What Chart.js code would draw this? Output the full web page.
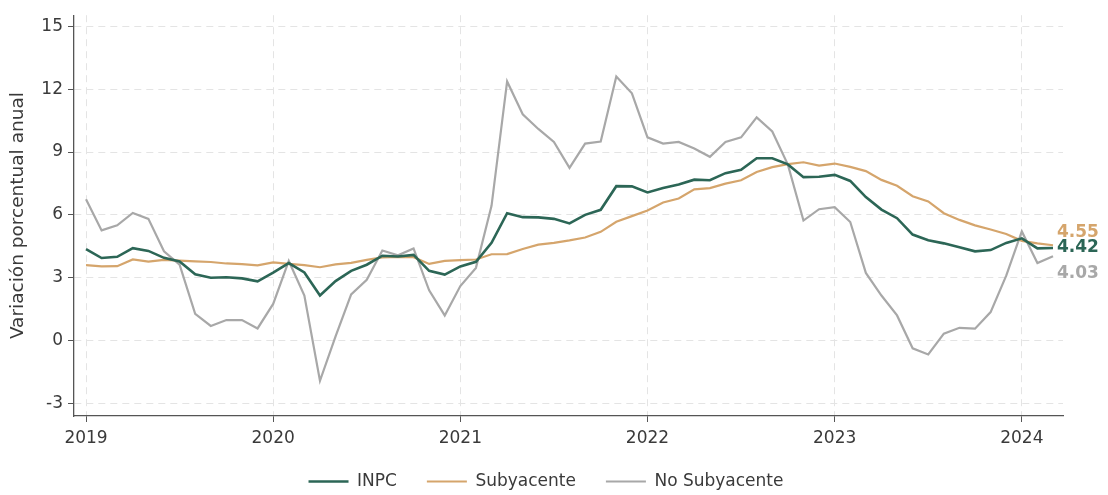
<!DOCTYPE html>
<html>
<head>
<meta charset="utf-8">
<script src="https://cdn.jsdelivr.net/npm/chart.js@4.4.1/dist/chart.umd.min.js"></script>
<style>
  html, body { margin: 0; padding: 0; background: #ffffff; }
  #wrap { width: 1108px; height: 495px; position: relative; }
</style>
</head>
<body>
<div id="wrap"><canvas id="c"></canvas></div>
<script>
// ---- Data (annual % change, monthly Jan-2019 .. Mar-2024) ----
const categories = [
  '2019-01','2019-02','2019-03','2019-04','2019-05','2019-06','2019-07','2019-08','2019-09','2019-10','2019-11','2019-12',
  '2020-01','2020-02','2020-03','2020-04','2020-05','2020-06','2020-07','2020-08','2020-09','2020-10','2020-11','2020-12',
  '2021-01','2021-02','2021-03','2021-04','2021-05','2021-06','2021-07','2021-08','2021-09','2021-10','2021-11','2021-12',
  '2022-01','2022-02','2022-03','2022-04','2022-05','2022-06','2022-07','2022-08','2022-09','2022-10','2022-11','2022-12',
  '2023-01','2023-02','2023-03','2023-04','2023-05','2023-06','2023-07','2023-08','2023-09','2023-10','2023-11','2023-12',
  '2024-01','2024-02','2024-03'
];

const inpc = [
  4.37, 3.94, 4.00, 4.41, 4.28, 3.95, 3.78, 3.16, 3.00, 3.02, 2.97, 2.83,
  3.24, 3.70, 3.25, 2.15, 2.84, 3.33, 3.62, 4.05, 4.01, 4.09, 3.33, 3.15,
  3.54, 3.76, 4.67, 6.08, 5.89, 5.88, 5.81, 5.59, 6.00, 6.24, 7.37, 7.36,
  7.07, 7.28, 7.45, 7.68, 7.65, 7.99, 8.15, 8.70, 8.70, 8.41, 7.80, 7.82,
  7.91, 7.62, 6.85, 6.25, 5.84, 5.06, 4.79, 4.64, 4.45, 4.26, 4.32, 4.66,
  4.88, 4.40, 4.42
];

const subyacente = [
  3.60, 3.54, 3.55, 3.87, 3.77, 3.85, 3.82, 3.78, 3.75, 3.68, 3.65, 3.59,
  3.73, 3.66, 3.60, 3.50, 3.64, 3.71, 3.85, 3.97, 3.99, 3.98, 3.66, 3.80,
  3.84, 3.87, 4.12, 4.13, 4.37, 4.58, 4.66, 4.78, 4.92, 5.19, 5.67, 5.94,
  6.21, 6.59, 6.78, 7.22, 7.28, 7.49, 7.65, 8.05, 8.28, 8.42, 8.51, 8.35,
  8.45, 8.29, 8.09, 7.67, 7.39, 6.89, 6.64, 6.08, 5.76, 5.50, 5.30, 5.09,
  4.76, 4.64, 4.55
];

const noSubyacente = [
  6.74, 5.26, 5.50, 6.09, 5.81, 4.26, 3.62, 1.28, 0.70, 0.98, 0.98, 0.58,
  1.75, 3.80, 2.15, -1.92, 0.20, 2.20, 2.90, 4.30, 4.07, 4.40, 2.40, 1.20,
  2.60, 3.47, 6.43, 12.37, 10.80, 10.10, 9.48, 8.24, 9.40, 9.50, 12.60, 11.80,
  9.70, 9.40, 9.48, 9.17, 8.77, 9.48, 9.70, 10.65, 9.98, 8.40, 5.73, 6.27,
  6.37, 5.66, 3.23, 2.15, 1.20, -0.37, -0.66, 0.33, 0.61, 0.57, 1.36, 3.10,
  5.21, 3.70, 4.03
];

const seriesNames = ['INPC', 'Subyacente', 'No Subyacente'];
const yearTickLabels = ['2019', '2020', '2021', '2022', '2023', '2024'];
const yTickValues = [-3, 0, 3, 6, 9, 12, 15];
const yTitle = 'Variación porcentual anual';

// ---- Styling ----
const COLORS = ['#2c6656', '#d5a56c', '#a8a8a8'];
const WIDTHS = [2.6, 2.2, 2.2];
const FONT = "'DejaVu Sans', sans-serif";
const TEXT = '#3a3a3a';
const AXIS = '#555555';

// month index for each category
const xIndex = categories.map((c, i) => i);
const yearTickPositions = yearTickLabels.map(y => categories.indexOf(y + '-01'));

function toPoints(arr) { return arr.map((v, i) => ({ x: xIndex[i], y: v })); }

const allSeries = [inpc, subyacente, noSubyacente];

const endLabelPlugin = {
  id: 'endLabels',
  afterDatasetsDraw(chart, args, opts) {
    const ctx = chart.ctx;
    ctx.save();
    ctx.font = "bold 17px " + FONT;
    ctx.textAlign = 'left';
    ctx.textBaseline = 'middle';
    chart.data.datasets.forEach((ds, i) => {
      const meta = chart.getDatasetMeta(i);
      const last = meta.data[meta.data.length - 1];
      const val = allSeries[i][allSeries[i].length - 1];
      ctx.fillStyle = COLORS[i];
      ctx.fillText(val.toFixed(2), opts.x, last.y + opts.dy[i]);
    });
    ctx.restore();
  }
};

new Chart(document.getElementById('c'), {
  type: 'line',
  data: {
    datasets: allSeries.map((arr, i) => ({
      label: seriesNames[i],
      data: toPoints(arr),
      borderColor: COLORS[i],
      backgroundColor: COLORS[i],
      borderWidth: WIDTHS[i],
      pointRadius: 0,
      pointHoverRadius: 0,
      tension: 0,
      fill: false,
      pointStyle: 'line'
    }))
  },
  plugins: [endLabelPlugin],
  options: {
    responsive: true,
    maintainAspectRatio: false,
    animation: false,
    events: [],
    layout: { padding: { top: 7, left: 0, right: 16, bottom: -5 } },
    plugins: {
      tooltip: { enabled: false },
      endLabels: { x: 1057, dy: [0, -12.5, 17] },
      legend: {
        position: 'bottom',
        labels: {
          usePointStyle: true,
          pointStyle: 'line',
          pointStyleWidth: 40,
          boxHeight: 17,
          padding: 30,
          color: TEXT,
          font: { family: FONT, size: 17 }
        }
      }
    },
    scales: {
      x: {
        type: 'linear',
        min: -0.77,
        max: 62.64,
        afterBuildTicks: s => { s.ticks = yearTickPositions.map(v => ({ value: v })); },
        afterFit: s => { s.height = 27; },
        ticks: {
          color: TEXT,
          font: { family: FONT, size: 17 },
          padding: 6,
          maxRotation: 0,
          callback: (v) => yearTickLabels[yearTickPositions.indexOf(v)]
        },
        grid: {
          color: '#e4e4e4',
          lineWidth: 1,
          tickLength: 6,
          tickColor: AXIS,
          tickBorderDash: []
        },
        border: { display: true, color: AXIS, width: 1.3, dash: [7, 5] }
      },
      y: {
        type: 'linear',
        position: 'left',
        min: -3.6,
        max: 15.53,
        afterBuildTicks: s => { s.ticks = yTickValues.map(v => ({ value: v })); },
        afterFit: s => { s.width = 74; },
        ticks: {
          color: TEXT,
          font: { family: FONT, size: 17 },
          padding: 5
        },
        title: {
          display: true,
          text: yTitle,
          color: TEXT,
          font: { family: FONT, size: 18.5 },
          padding: { top: 7, bottom: 0 }
        },
        grid: {
          color: '#e4e4e4',
          lineWidth: 1,
          tickLength: 6,
          tickColor: AXIS,
          tickBorderDash: []
        },
        border: { display: true, color: AXIS, width: 1.3, dash: [7, 5] }
      },
      yRight: {
        type: 'linear',
        position: 'right',
        min: -3.6,
        max: 15.53,
        afterFit: s => { s.width = 29; },
        ticks: { display: false },
        grid: { display: false, drawTicks: false },
        border: { display: false }
      }
    }
  }
});
</script>
</body>
</html>
